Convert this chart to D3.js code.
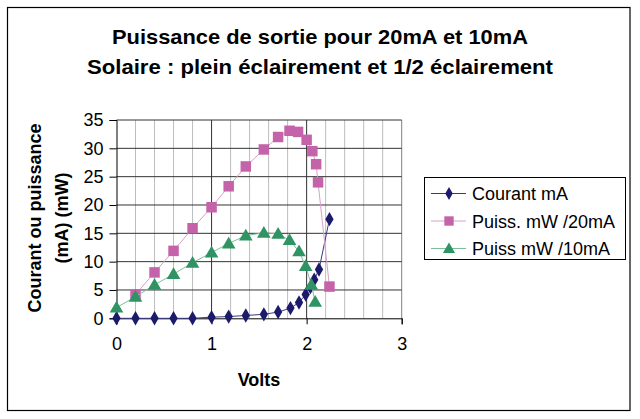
<!DOCTYPE html>
<html>
<head>
<meta charset="utf-8">
<script src="https://cdn.jsdelivr.net/npm/d3@7"></script>
<style>
  html, body { margin: 0; padding: 0; background: #fff; }
  svg { display: block; font-family: "Liberation Sans", Arial, sans-serif; }
</style>
</head>
<body>
<svg id="chart" width="640" height="419"></svg>
<script>
// ---- Data ----
const titleLines = ["Puissance de sortie pour 20mA et 10mA", "Solaire : plein éclairement et 1/2 éclairement"];
const xTicks = [0, 1, 2, 3];
const yTicks = [0, 5, 10, 15, 20, 25, 30, 35];
const seriesNames = ["Courant mA", "Puiss. mW /20mA", "Puiss mW /10mA"];

const courantX = [0, 0.2, 0.4, 0.6, 0.8, 1.0, 1.18, 1.36, 1.55, 1.70, 1.83, 1.92, 1.99, 2.04, 2.08, 2.13, 2.24];
const courantY = [0, 0, 0, 0, 0, 0.2, 0.3, 0.5, 0.7, 1.1, 1.8, 2.8, 4.2, 5.5, 6.8, 8.6, 17.5];

const p20X = [0.2, 0.4, 0.6, 0.8, 1.0, 1.18, 1.36, 1.55, 1.70, 1.82, 1.91, 2.0, 2.06, 2.10, 2.12, 2.24];
const p20Y = [4.2, 8.1, 11.9, 15.9, 19.6, 23.3, 26.8, 29.8, 32.0, 33.1, 32.9, 31.5, 29.5, 27.2, 24.0, 5.6];

const p10X = [0, 0.2, 0.4, 0.6, 0.8, 1.0, 1.18, 1.36, 1.55, 1.70, 1.82, 1.92, 1.99, 2.05, 2.09];
const p10Y = [1.9, 3.8, 5.9, 7.8, 9.8, 11.6, 13.2, 14.6, 15.1, 14.9, 13.8, 11.8, 9.2, 5.9, 2.9];

// ---- Layout ----
const svg = d3.select("#chart");
const plot = { left: 116.5, right: 401.7, top: 120, bottom: 318.3 };

const x = d3.scaleLinear().domain([0, 3]).range([plot.left, plot.right]);
const y = d3.scaleLinear().domain([0, 35]).range([plot.bottom, plot.top]);

// outer border
svg.append("rect").attr("x", 7.5).attr("y", 7.5).attr("width", 622.5).attr("height", 403)
  .attr("fill", "#fff").attr("stroke", "#000").attr("stroke-width", 1.2);

// title
const titleWidths = [416, 466];
svg.selectAll("text.title").data(titleLines).join("text")
  .attr("class", "title")
  .attr("x", 320).attr("y", (d, i) => 44 + i * 30)
  .attr("text-anchor", "middle")
  .attr("font-size", 21).attr("font-weight", "bold").attr("fill", "#000")
  .attr("textLength", (d, i) => titleWidths[i]).attr("lengthAdjust", "spacingAndGlyphs")
  .text(d => d);

// minor vertical gridlines
const minorX = d3.range(0, 3.001, 0.2).filter(v => Math.abs(v - Math.round(v)) > 1e-6);
svg.append("g").selectAll("line").data(minorX).join("line")
  .attr("x1", d => x(d)).attr("x2", d => x(d))
  .attr("y1", plot.top).attr("y2", plot.bottom)
  .attr("stroke", "#bdbdbd").attr("stroke-width", 1);

// major vertical gridlines
svg.append("g").selectAll("line").data(xTicks.filter(v => v > 0)).join("line")
  .attr("x1", d => x(d)).attr("x2", d => x(d))
  .attr("y1", plot.top).attr("y2", plot.bottom)
  .attr("stroke", d => d === 3 ? "#808080" : "#333").attr("stroke-width", 1);

// horizontal gridlines
svg.append("g").selectAll("line").data(yTicks.filter(v => v > 0)).join("line")
  .attr("x1", plot.left).attr("x2", plot.right)
  .attr("y1", d => y(d)).attr("y2", d => y(d))
  .attr("stroke", "#333").attr("stroke-width", 1);

// axes
const yAxis = d3.axisLeft(y).tickValues(yTicks).tickSize(7).tickPadding(6).tickFormat(d3.format("d"));
const gy = svg.append("g").attr("transform", `translate(${plot.left},0)`).call(yAxis);
gy.select(".domain").attr("stroke", "#000");
gy.selectAll(".tick line").attr("stroke", "#000");
gy.selectAll("text").attr("font-size", 18).attr("fill", "#000")
  .attr("font-family", "'Liberation Sans', Arial, sans-serif");

const xAxis = d3.axisBottom(x).tickValues(xTicks).tickSize(6).tickPadding(13).tickFormat(d3.format("d"));
const gx = svg.append("g").attr("transform", `translate(0,${plot.bottom})`).call(xAxis);
gx.select(".domain").attr("stroke", "#000");
gx.selectAll(".tick line").attr("stroke", "#000");
gx.selectAll("text").attr("font-size", 18).attr("fill", "#000")
  .attr("font-family", "'Liberation Sans', Arial, sans-serif");

// axis titles
svg.append("text").attr("x", 259).attr("y", 386).attr("text-anchor", "middle")
  .attr("font-size", 18).attr("font-weight", "bold").text("Volts");
const yl = svg.append("text").attr("transform", "translate(0,218) rotate(-90)")
  .attr("text-anchor", "middle").attr("font-size", 18).attr("font-weight", "bold");
yl.append("tspan").attr("x", 0).attr("y", 41).text("Courant ou puissance");
yl.append("tspan").attr("x", 0).attr("y", 68).text("(mA) (mW)");

// series
const series = [
  { name: seriesNames[0], xs: courantX, ys: courantY, color: "#1c1a6b", line: "#3a3880", shape: d3.symbolDiamond, size: 60 },
  { name: seriesNames[1], xs: p20X, ys: p20Y, color: "#c463a9", line: "#d8a0c8", shape: d3.symbolSquare, size: 110 },
  { name: seriesNames[2], xs: p10X, ys: p10Y, color: "#2e9463", line: "#7cbf9c", shape: d3.symbolTriangle, size: 80 }
];

const lineGen = d3.line().x(d => x(d[0])).y(d => y(d[1]));
series.forEach(s => {
  const pts = s.xs.map((v, i) => [v, s.ys[i]]);
  svg.append("path").datum(pts).attr("d", lineGen)
    .attr("fill", "none").attr("stroke", s.line).attr("stroke-width", 1);
  svg.append("g").selectAll("path").data(pts).join("path")
    .attr("transform", d => `translate(${x(d[0])},${y(d[1]) + (s.shape === d3.symbolTriangle ? 1 : 0)})`)
    .attr("d", d3.symbol().type(s.shape).size(s.size))
    .attr("fill", s.color);
});

// legend
const lg = svg.append("g");
lg.append("rect").attr("x", 424.5).attr("y", 177.5).attr("width", 201).attr("height", 82)
  .attr("fill", "#fff").attr("stroke", "#000").attr("stroke-width", 1);
series.forEach((s, i) => {
  const cy = 193.5 + i * 27.5;
  lg.append("line").attr("x1", 431).attr("x2", 466).attr("y1", cy).attr("y2", cy)
    .attr("stroke", s.line).attr("stroke-width", 1);
  lg.append("path").attr("transform", `translate(449,${cy + (s.shape === d3.symbolTriangle ? 1 : 0)})`)
    .attr("d", d3.symbol().type(s.shape).size(s.size * 0.8)).attr("fill", s.color);
  lg.append("text").attr("x", 472).attr("y", cy + 6.5).attr("font-size", 18).attr("fill", "#000").text(s.name);
});
</script>
</body>
</html>
